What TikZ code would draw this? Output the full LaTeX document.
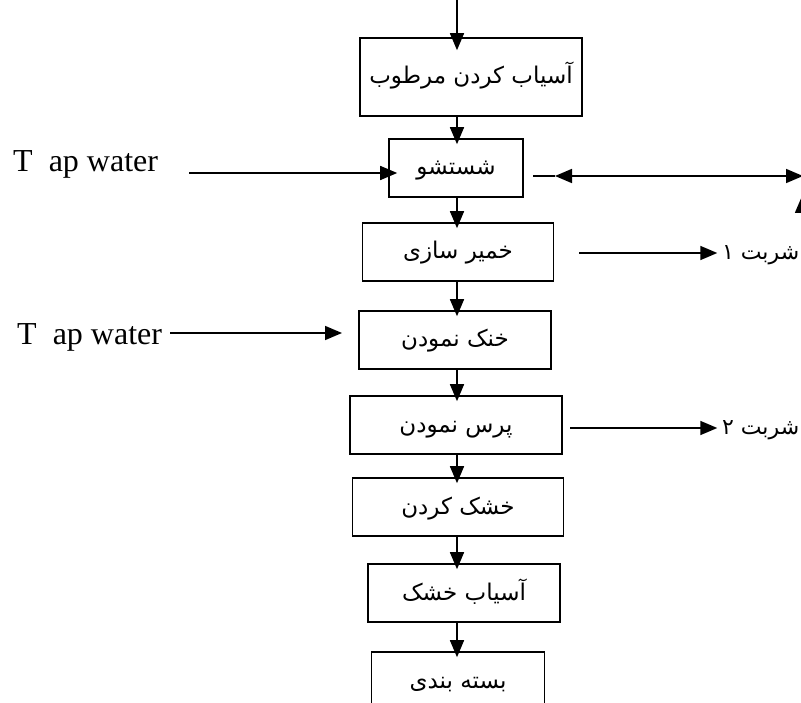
\documentclass[tikz,border=0pt]{standalone}
\usepackage{fontspec}
\usepackage{tikz}
\usetikzlibrary{arrows.meta, positioning}
\setmainfont{Liberation Serif}
\newfontfamily\arabicfont[Script=Arabic]{DejaVu Sans}
\TeXXeTstate=1
\newcommand{\fatext}[1]{{\arabicfont\beginR #1\endR}}

\begin{document}
\begin{tikzpicture}[
		x=1pt, y=-1pt,
		stepbox/.style={draw, line width=1.6pt, inner sep=0pt,
			minimum height=58pt, text height=20pt, text depth=6pt,
			font=\fontsize{23}{28}\selectfont},
		sidetext/.style={inner sep=0pt, font=\fontsize{32}{36}\selectfont},
		arrow/.style={-{Triangle[length=17pt, width=14pt]}, line width=1.6pt},
		flow/.style={arrow, shorten >=-6pt}
	]
		\useasboundingbox (0,0) rectangle (801,703);
		\clip (0,0) rectangle (801,703);
		\fill[white] (0,0) rectangle (801,703);
		% main line of steps
		\node[stepbox, minimum width=222pt, minimum height=78pt] (wetmill) at (471,77) {\fatext{آسیاب کردن مرطوب}};
		\node[stepbox, minimum width=134pt] (wash) at (456,168) {\fatext{شستشو}};
		\node[stepbox, minimum width=191pt] (dough) at (458,252) {\fatext{خمیر سازی}};
		\node[stepbox, minimum width=192pt] (cool) at (455,340) {\fatext{خنک نمودن}};
		\node[stepbox, minimum width=212pt] (press) at (456,425) {\fatext{پرس نمودن}};
		\node[stepbox, minimum width=211pt] (dry) at (458,507) {\fatext{خشک کردن}};
		\node[stepbox, minimum width=192pt] (drymill) at (464,593) {\fatext{آسیاب خشک}};
		\node[stepbox, minimum width=173pt] (pack) at (458,681) {\fatext{بسته بندی}};
		\coordinate (spine) at (457,0);
		\draw[arrow, shorten >=-13pt] (spine) -- (spine |- wetmill.north);
		\foreach \a/\b in {wetmill/wash,wash/dough,dough/cool,cool/press,press/dry,dry/drymill,drymill/pack}
			\draw[flow] (spine |- \a.south) -- (spine |- \b.north);
		% water in
		\node[sidetext, anchor=base west] (tap1) at (13,172) {T\ \ ap water};
		\node[sidetext, anchor=base west] (tap2) at (17,345) {T\ \ ap water};
		\coordinate (tapin1) at (189,173);
		\coordinate (tapin2) at (170,333);
		\draw[arrow, shorten >=-9pt] (tapin1) -- (tapin1 -| wash.west);
		\draw[arrow] (tapin2) -- (342,333);
		% recycle line
		\coordinate (recyc) at (533,176);
		\coordinate (rectip) at (555,176);
		\coordinate (recout) at (803,176);
		\draw[line width=1.6pt] (recyc) -- (rectip);
		\draw[arrow, {Triangle[length=17pt, width=14pt]}-{Triangle[length=17pt, width=14pt]}] (rectip) -- (recout);
		\coordinate (upfrom) at (802,260);
		\coordinate (upto) at (802,196);
		\draw[arrow] (upfrom) -- (upto);
		% syrup out
		\node[stepbox, draw=none, anchor=east, minimum height=0pt, font=\fontsize{22}{26}\selectfont] (syrup1) at (800,253) {\fatext{شربت ۱}};
		\node[stepbox, draw=none, anchor=east, minimum height=0pt, font=\fontsize{22}{26}\selectfont] (syrup2) at (800,428) {\fatext{شربت ۲}};
		\draw[arrow, shorten >=4pt] (579,253) -- (syrup1.west);
		\draw[arrow, shorten >=4pt] (570,428) -- (syrup2.west);
	\end{tikzpicture}
\end{document}
